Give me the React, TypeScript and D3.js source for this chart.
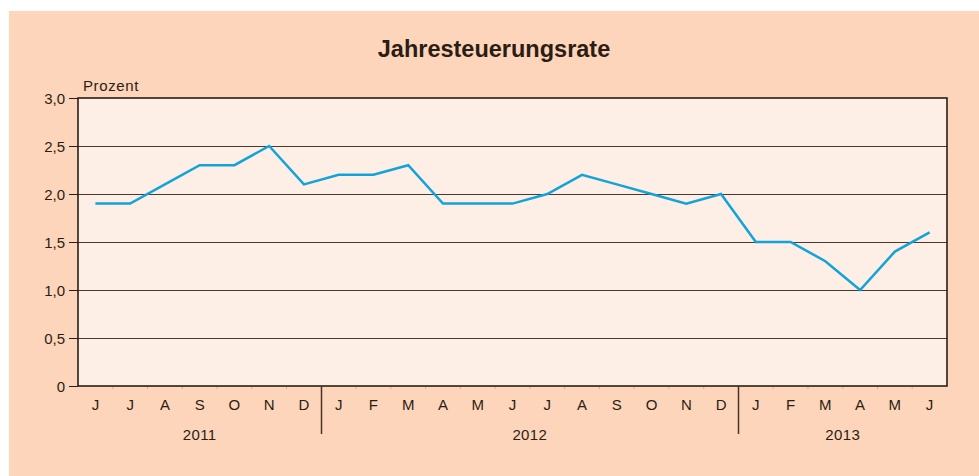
import React from "react";
import * as d3 from "d3";

const months = ["J","J","A","S","O","N","D","J","F","M","A","M","J","J","A","S","O","N","D","J","F","M","A","M","J"];
const values = [1.9,1.9,2.1,2.3,2.3,2.5,2.1,2.2,2.2,2.3,1.9,1.9,1.9,2.0,2.2,2.1,2.0,1.9,2.0,1.5,1.5,1.3,1.0,1.4,1.6];
const years = ["2011","2012","2013"];
const yearSpans = [[0,7],[7,19],[19,25]];
const yTicks = [0,0.5,1.0,1.5,2.0,2.5,3.0];

const W = 979, H = 476;
const L = 78, R = 947, T = 98, B = 386;
const FONT = "'Liberation Sans', Arial, Helvetica, sans-serif";
const TXT = "#2b1d14";

export default function App() {
  const idx = months.map((_, i) => i);
  const x = d3.scaleBand<number>().domain(idx).range([L, R]);
  const y = d3.scaleLinear().domain([0, 3]).range([B, T]);
  const line = d3.line<number>().x((_, i) => (x(i) as number) + x.bandwidth() / 2).y(d => y(d));
  const fmt = (v: number) => (v === 0 ? "0" : v.toFixed(1).replace(".", ","));
  return (
    <svg width={W} height={H} style={{ position: "absolute", left: 0, top: 0 }}>
      <rect x={9} y={11} width={W - 9} height={H - 11} fill="#fdd5ba" />
      <text x={494} y={57} textAnchor="middle" fontFamily={FONT} fontWeight="bold" fontSize={23.5} fill={TXT}>Jahresteuerungsrate</text>
      <rect x={L} y={T} width={R - L} height={B - T} fill="#fdefe5" />
      {yTicks.filter(t => t > 0 && t < 3).map(t => (
        <line key={"g" + t} x1={L} x2={R} y1={Math.round(y(t)) + 0.5} y2={Math.round(y(t)) + 0.5} stroke="#4a3a30" strokeWidth={1} />
      ))}
      {yTicks.map(t => (
        <g key={"t" + t}>
          <line x1={69} x2={L} y1={Math.round(y(t)) + 0.5} y2={Math.round(y(t)) + 0.5} stroke={TXT} strokeWidth={1} />
          <text x={65} y={y(t) + 6} textAnchor="end" fontFamily={FONT} fontSize={15} fill={TXT}>{fmt(t)}</text>
        </g>
      ))}
      <text x={83} y={91} fontFamily={FONT} fontSize={15} fill={TXT} letterSpacing={0.6}>Prozent</text>
      {idx.slice(1).map(i => (
        <line key={"m" + i} x1={x(i) as number} x2={x(i) as number} y1={B} y2={B + 3} stroke="#c9b3a3" strokeWidth={1} />
      ))}
      <path d={line(values) || ""} fill="none" stroke="#12a3da" strokeWidth={2.5} strokeLinejoin="miter" />
      <rect x={L} y={T} width={R - L} height={B - T} fill="none" stroke="#2b1d14" strokeWidth={1.6} />
      {months.map((m, i) => (
        <text key={"x" + i} x={(x(i) as number) + x.bandwidth() / 2} y={409.5} textAnchor="middle" fontFamily={FONT} fontSize={15} fill={TXT}>{m}</text>
      ))}
      {yearSpans.slice(1).map(([s], k) => (
        <line key={"s" + k} x1={Math.round(x(s) as number) + 0.5} x2={Math.round(x(s) as number) + 0.5} y1={B} y2={434} stroke="#4a3326" strokeWidth={1.5} />
      ))}
      {years.map((yr, k) => {
        const [s, e] = yearSpans[k];
        const cx = ((x(s) as number) + (x(e - 1) as number) + x.bandwidth()) / 2;
        return <text key={yr} x={cx} y={440} textAnchor="middle" fontFamily={FONT} fontSize={15} fill={TXT} letterSpacing={0.4}>{yr}</text>;
      })}
    </svg>
  );
}
